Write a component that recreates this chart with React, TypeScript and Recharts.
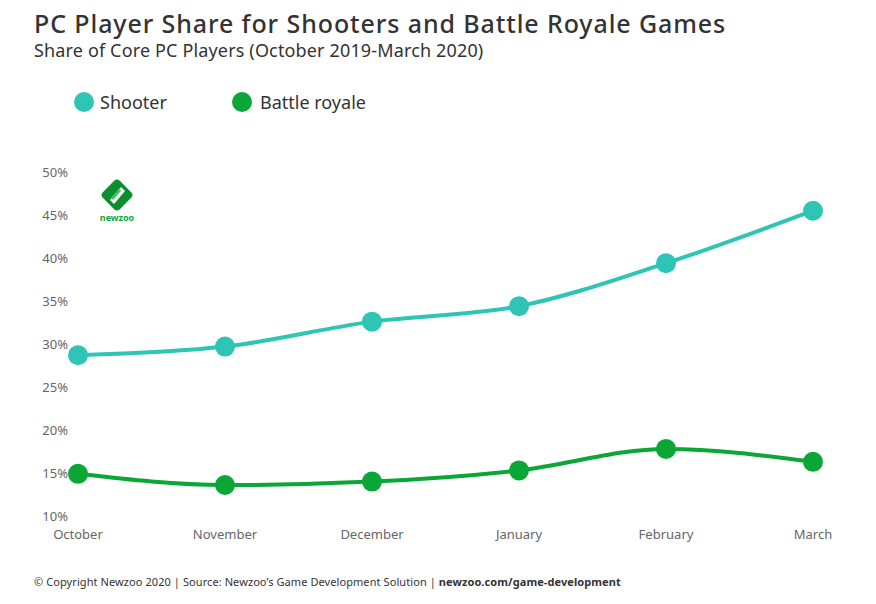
import React from 'react';
import { LineChart, Line, XAxis, YAxis } from 'recharts';

const months = ['October', 'November', 'December', 'January', 'February', 'March'];
const shooter = [28.7, 29.7, 32.6, 34.4, 39.4, 45.5];
const battleRoyale = [14.9, 13.6, 14.0, 15.3, 17.8, 16.3];
const yTicks = [10, 15, 20, 25, 30, 35, 40, 45, 50];

const SHOOTER_COLOR = '#2ec4b6';
const BR_COLOR = '#0aa636';
const FONT = '"Noto Sans", sans-serif';

const data = months.map((m, i) => ({
  month: m,
  shooter: shooter[i],
  battleRoyale: battleRoyale[i],
}));

function Logo() {
  return (
    <div style={{ position: 'absolute', left: 96, top: 178, width: 42, textAlign: 'center' }}>
      <svg width={36} height={34} viewBox="0 0 36 34" style={{ display: 'block', margin: '0 auto' }}>
        <rect x={6} y={5} width={24} height={24} rx={4} transform="rotate(45 18 17)" fill="#0a8f2e" />
        <path d="M11 22 L22 9 L26 13 L15 26 Z" fill="#ffffff" />
        <path d="M13 21 L21 12" stroke="#3fc55a" strokeWidth={3} />
      </svg>
      <div style={{ fontFamily: FONT, fontSize: 9, fontWeight: 700, color: '#13a538', marginTop: -1 }}>newzoo</div>
    </div>
  );
}

export default function App() {
  return (
    <div style={{ position: 'absolute', left: 0, top: 0, width: 876, height: 604, background: '#fff', fontFamily: FONT }}>
      <div style={{ position: 'absolute', left: 34, top: 6, fontSize: 25, lineHeight: '34px', color: '#333', fontWeight: 500, letterSpacing: 0.9, whiteSpace: 'nowrap' }}>
        PC Player Share for Shooters and Battle Royale Games
      </div>
      <div style={{ position: 'absolute', left: 34, top: 38, fontSize: 18, lineHeight: '24px', color: '#333', letterSpacing: 0.15, whiteSpace: 'nowrap' }}>
        Share of Core PC Players (October 2019-March 2020)
      </div>

      <div style={{ position: 'absolute', left: 74, top: 89, display: 'flex', alignItems: 'center', fontSize: 18, lineHeight: '26px', color: '#333' }}>
        <span style={{ width: 20, height: 20, borderRadius: 10, background: SHOOTER_COLOR, display: 'inline-block', marginRight: 6 }} />
        <span style={{ width: 132 }}>Shooter</span>
        <span style={{ width: 20, height: 20, borderRadius: 10, background: BR_COLOR, display: 'inline-block', marginRight: 8 }} />
        <span>Battle royale</span>
      </div>

      <Logo />

      <div style={{ position: 'absolute', left: 0, top: 0 }}>
        <LineChart width={876} height={604} data={data} margin={{ top: 172, right: 63, bottom: 58, left: 8 }}>
          <XAxis
            dataKey="month"
            axisLine={false}
            tickLine={false}
            tickSize={0}
            tickMargin={14}
            height={30}
            interval={0}
            padding={{ left: 0, right: 0 }}
            tick={{ fill: '#666', fontSize: 13, fontFamily: FONT }}
          />
          <YAxis
            domain={[10, 50]}
            ticks={yTicks}
            axisLine={false}
            tickLine={false}
            tickSize={0}
            tickMargin={10}
            width={70}
            tickFormatter={(v) => `${v}%`}
            tick={{ fill: '#666', fontSize: 13, fontFamily: FONT }}
          />
          <Line
            type="monotone"
            dataKey="shooter"
            stroke={SHOOTER_COLOR}
            strokeWidth={4}
            dot={{ r: 10, fill: SHOOTER_COLOR, stroke: 'none' }}
            activeDot={false}
            isAnimationActive={false}
          />
          <Line
            type="monotone"
            dataKey="battleRoyale"
            stroke={BR_COLOR}
            strokeWidth={4}
            dot={{ r: 10, fill: BR_COLOR, stroke: 'none' }}
            activeDot={false}
            isAnimationActive={false}
          />
        </LineChart>
      </div>

      <div style={{ position: 'absolute', left: 34, top: 574, fontSize: 11, color: '#333', letterSpacing: 0.08, whiteSpace: 'nowrap' }}>
        © Copyright Newzoo 2020 | Source: Newzoo’s Game Development Solution | <b>newzoo.com/game-development</b>
      </div>
    </div>
  );
}
